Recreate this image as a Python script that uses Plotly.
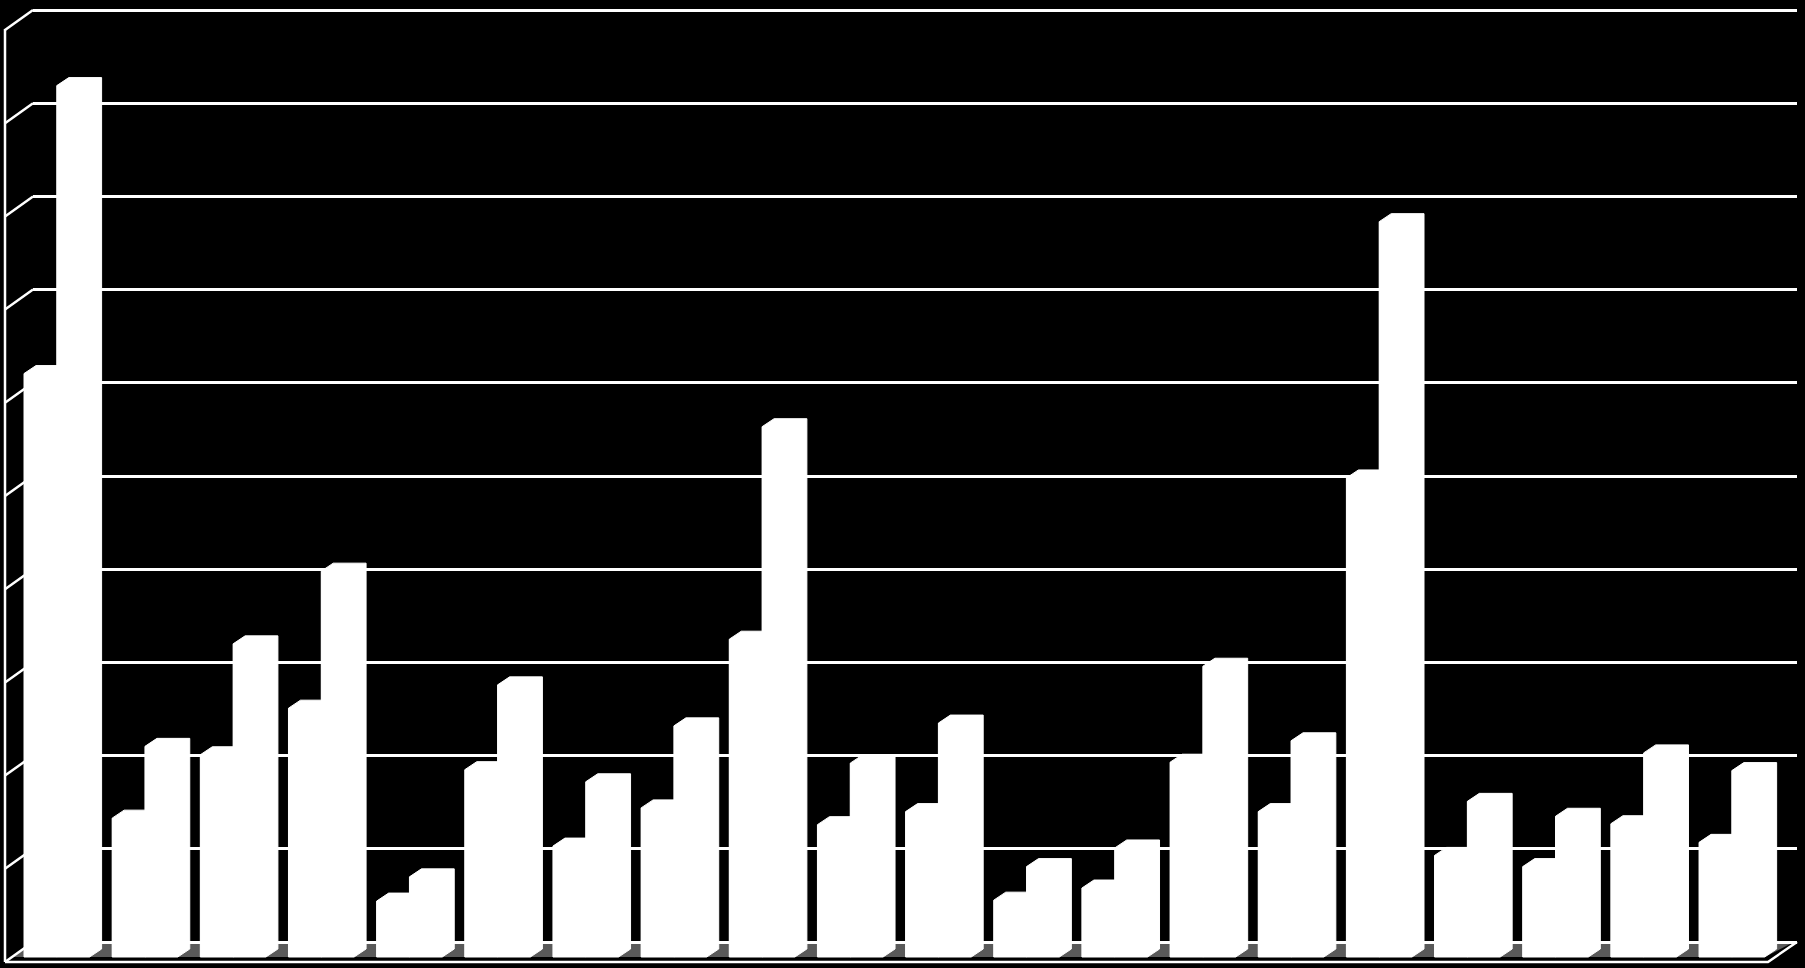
import plotly.graph_objects as go

# 20 groups of two columns (gridline = 1 unit)
groups = list(range(1, 21))
series_a = [6.26, 1.49, 2.17, 2.67, 0.60, 2.01, 1.19, 1.60, 3.41, 1.42,
            1.56, 0.61, 0.74, 2.09, 1.56, 5.14, 1.09, 0.97, 1.43, 1.23]
series_b = [9.35, 2.26, 3.36, 4.14, 0.86, 2.92, 1.88, 2.48, 5.69, 2.08,
            2.51, 0.97, 1.17, 3.12, 2.32, 7.89, 1.67, 1.51, 2.19, 2.00]
gridlines = list(range(0, 11))

W, H = 1805, 968
#pixel layout of the fake 3d box
pitch = 88.16          # px per group
first_center = 56.8    # px of first group centre
px_unit = 93.2         # px per value unit
front_floor = 957      # px of column front bottom
back_floor = 942       # px of back wall zero line
wall_left, wall_right = 33, 1797
side_x = 5
depth_x, depth_y = 12, 8   # column depth in px

bar_gap = 1 - 65.6 / pitch
bar_w = (1 - bar_gap) / 2
dx = depth_x / pitch
dy = depth_y / px_unit

def px2paper_x(px):
    return px / W

def px2paper_y(py):
    return 1 - py / H

fig = go.Figure()

#back wall gridlines live on x/y
fig.add_trace(go.Scatter(x=[0], y=[0], mode='markers', marker=dict(opacity=0),
                         hoverinfo='skip', showlegend=False, xaxis='x', yaxis='y'))

#front faces of the columns
fig.add_trace(go.Bar(x=groups, y=series_a, name='A', marker=dict(color='white', line=dict(width=0)),
                     xaxis='x2', yaxis='y2', showlegend=False))
fig.add_trace(go.Bar(x=groups, y=series_b, name='B', marker=dict(color='white', line=dict(width=0)),
                     xaxis='x2', yaxis='y2', showlegend=False))

#whole column outline (front + top + side faces), built from the values
def column_outline(values, offset):
    xs, ys = [], []
    for g, v in zip(groups, values):
        xl = g + offset
        xr = xl + bar_w
        xs += [xl, xl, xl + dx, xr + dx, xr + dx, xr, xl, None]
        ys += [0, v, v + dy, v + dy, dy, 0, 0, None]
    return xs, ys

for vals, off in [(series_a, -bar_w), (series_b, 0)]:
    xs, ys = column_outline(vals, off)
    fig.add_trace(go.Scatter(x=xs, y=ys, mode='lines', fill='toself', fillcolor='white',
                             line=dict(width=1, color='white'), hoverinfo='skip',
                             showlegend=False, xaxis='x2', yaxis='y2'))

shapes = []
#grey floor
shapes.append(dict(type='path', xref='paper', yref='paper', layer='below',
                   path='M {} {} L {} {} L {} {} L {} {} Z'.format(
                       px2paper_x(wall_left), px2paper_y(back_floor + 1),
                       px2paper_x(1792), px2paper_y(back_floor + 1),
                       px2paper_x(1765), px2paper_y(front_floor),
                       px2paper_x(13), px2paper_y(front_floor)),
                   fillcolor='#5a5a5a', line=dict(width=0)))
#left side wall
shapes.append(dict(type='line', xref='paper', yref='paper', layer='below',
                   x0=px2paper_x(side_x), x1=px2paper_x(side_x),
                   y0=px2paper_y(29), y1=px2paper_y(962),
                   line=dict(color='white', width=2.5)))
for k in gridlines:
    shapes.append(dict(type='line', xref='paper', yref='y', layer='below',
                       x0=px2paper_x(side_x), x1=px2paper_x(wall_left),
                       y0=k - 20 / px_unit, y1=k,
                       line=dict(color='white', width=2.5)))
#front edge of floor
shapes.append(dict(type='path', xref='paper', yref='paper', layer='below',
                   path='M {} {} L {} {} L {} {}'.format(
                       px2paper_x(side_x), px2paper_y(962),
                       px2paper_x(1768), px2paper_y(962),
                       px2paper_x(wall_right), px2paper_y(back_floor)),
                   line=dict(color='white', width=2.5)))

fig.update_layout(
    width=W, height=H,
    margin=dict(l=0, r=0, t=0, b=0),
    paper_bgcolor='black', plot_bgcolor='rgba(0,0,0,0)',
    barmode='group', bargap=bar_gap, bargroupgap=0,
    showlegend=False,
    shapes=shapes,
    xaxis=dict(domain=[px2paper_x(wall_left), px2paper_x(wall_right)], range=[0, 1],
               showgrid=False, zeroline=False, showticklabels=False, ticks=''),
    yaxis=dict(domain=[0, 1], range=[(back_floor - H) / px_unit, back_floor / px_unit],
               tickvals=gridlines, showgrid=True, gridcolor='white', gridwidth=2.5,
               zeroline=False, showticklabels=False, ticks=''),
    xaxis2=dict(domain=[0, 1], anchor='y2',
                range=[1 - first_center / pitch, 1 + (W - first_center) / pitch],
                showgrid=False, zeroline=False, showticklabels=False, ticks=''),
    yaxis2=dict(domain=[0, 1], anchor='x2',
                range=[(front_floor - H) / px_unit, front_floor / px_unit],
                showgrid=False, zeroline=False, showticklabels=False, ticks=''),
)

#page body margin would push the figure off by 8px
fig.write_html("out.html", config={'displayModeBar': False},
               post_script="document.body.style.margin='0';document.body.style.background='black';")
